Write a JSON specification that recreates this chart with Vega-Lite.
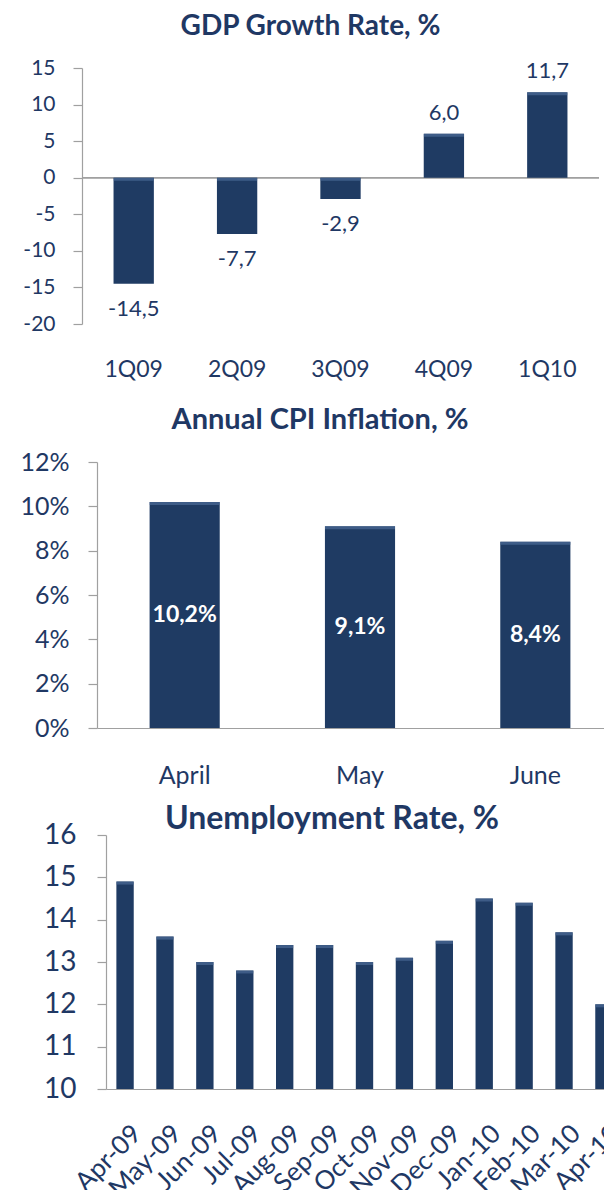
{
  "$schema": "https://vega.github.io/schema/vega-lite/v6.json",
  "padding": {"left": 19, "top": 13, "right": 0, "bottom": 0},
  "background": "white",
  "spacing": 15,
  "config": {
    "font": "Lato",
    "view": {"stroke": null},
    "locale": {"number": {"decimal": ",", "thousands": ".", "grouping": [3], "currency": ["", ""], "minus": "-"}},
    "axis": {"labelFont": "Lato", "labelColor": "#1F3864", "domainColor": "#A0A0A0", "tickColor": "#A0A0A0", "grid": false, "domainWidth": 1.2, "tickWidth": 1.2, "labelOverlap": false},
    "title": {"font": "Lato", "fontWeight": "bold", "color": "#1F3864", "anchor": "middle", "frame": "group"}
  },
  "datasets": {
    "gdp": [
      {"quarter": "1Q09", "value": -14.5},
      {"quarter": "2Q09", "value": -7.7},
      {"quarter": "3Q09", "value": -2.9},
      {"quarter": "4Q09", "value": 6.0},
      {"quarter": "1Q10", "value": 11.7}
    ],
    "cpi": [
      {"month": "April", "value": 0.102},
      {"month": "May", "value": 0.091},
      {"month": "June", "value": 0.084}
    ],
    "unemp": [
      {"month": "Apr-09", "value": 14.9},
      {"month": "May-09", "value": 13.6},
      {"month": "Jun-09", "value": 13.0},
      {"month": "Jul-09", "value": 12.8},
      {"month": "Aug-09", "value": 13.4},
      {"month": "Sep-09", "value": 13.4},
      {"month": "Oct-09", "value": 13.0},
      {"month": "Nov-09", "value": 13.1},
      {"month": "Dec-09", "value": 13.5},
      {"month": "Jan-10", "value": 14.5},
      {"month": "Feb-10", "value": 14.4},
      {"month": "Mar-10", "value": 13.7},
      {"month": "Apr-10", "value": 12.0}
    ]
  },
  "vconcat": [
    {
      "width": 517,
      "height": 256,
      "title": {"text": "GDP Growth Rate, %", "fontSize": 28, "dx": -30, "offset": 16},
      "data": {"name": "gdp"},
      "encoding": {
        "x": {"field": "quarter", "type": "nominal", "sort": null,
              "scale": {"paddingInner": 0.61, "paddingOuter": 0.305},
              "axis": {"title": null, "domain": false, "ticks": true, "tickSize": 67, "tickOpacity": 0, "labelAngle": 0, "labelFontSize": 23, "labelPadding": -33}},
        "y": {"field": "value", "type": "quantitative",
              "scale": {"domain": [-20, 15], "nice": false},
              "axis": {"title": null, "values": [-20, -15, -10, -5, 0, 5, 10, 15], "tickSize": 9, "labelPadding": 18, "labelFontSize": 21, "format": "d"}}
      },
      "layer": [
        {
          "mark": {"type": "rule", "color": "#A0A0A0", "strokeWidth": 1.2},
          "encoding": {"y": {"datum": 0, "type": "quantitative",
              "axis": {"title": null, "values": [-20, -15, -10, -5, 0, 5, 10, 15], "tickSize": 9, "labelPadding": 18, "labelFontSize": 21, "format": "d"}}, "x": null}
        },
        {
          "mark": {"type": "bar", "color": "#1F3B63"}
        },
        {
          "transform": [{"filter": "datum.value > 0"}],
          "mark": {"type": "tick", "color": "#4B6B97", "thickness": 3, "size": 40, "yOffset": 1.5}
        },
        {
          "transform": [{"filter": "datum.value < 0"}],
          "mark": {"type": "tick", "color": "#4B6B97", "thickness": 3, "size": 40, "yOffset": 1.5},
          "encoding": {"y": {"datum": 0, "type": "quantitative",
              "axis": {"title": null, "values": [-20, -15, -10, -5, 0, 5, 10, 15], "tickSize": 9, "labelPadding": 18, "labelFontSize": 21, "format": "d"}}}
        },
        {
          "transform": [{"filter": "datum.value > 0"}],
          "mark": {"type": "text", "baseline": "bottom", "dy": -9, "fontSize": 22, "color": "#1F3864"},
          "encoding": {
            "text": {"field": "value", "type": "quantitative", "format": ".1f"}
          }
        },
        {
          "transform": [{"filter": "datum.value < 0"}],
          "mark": {"type": "text", "baseline": "top", "dy": 15, "fontSize": 22, "color": "#1F3864"},
          "encoding": {
            "text": {"field": "value", "type": "quantitative", "format": ".1f"}
          }
        }
      ]
    },
    {
      "width": 524,
      "height": 266,
      "title": {"text": "Annual CPI Inflation, %", "fontSize": 29, "dx": -24, "offset": 15},
      "data": {"name": "cpi"},
      "encoding": {
        "x": {"field": "month", "type": "nominal", "sort": null,
              "scale": {"range": [15, 541], "paddingInner": 0.6, "paddingOuter": 0.3},
              "axis": {"title": null, "ticks": false, "labelAngle": 0, "labelFontSize": 25, "labelPadding": 35}}
      },
      "layer": [
        {
          "mark": {"type": "bar", "color": "#1F3B63"},
          "encoding": {
            "y": {"field": "value", "type": "quantitative",
                  "scale": {"domain": [0, 0.12], "nice": false},
                  "axis": {"title": null, "values": [0, 0.02, 0.04, 0.06, 0.08, 0.1, 0.12], "format": ".0%", "offset": -15, "tickSize": 9, "labelPadding": 19, "labelFontSize": 25}}
          }
        },
        {
          "mark": {"type": "tick", "color": "#4B6B97", "thickness": 3, "size": 70, "yOffset": 1.5},
          "encoding": {
            "y": {"field": "value", "type": "quantitative",
                  "scale": {"domain": [0, 0.12], "nice": false},
                  "axis": null}
          }
        },
        {
          "mark": {"type": "text", "baseline": "middle", "fontSize": 23, "fontWeight": "bold", "color": "white"},
          "encoding": {
            "y": {"field": "value", "type": "quantitative", "scale": {"domain": [0, 0.24], "nice": false}, "axis": null},
            "text": {"field": "value", "type": "quantitative", "format": ".1%"}
          }
        }
      ],
      "resolve": {"scale": {"y": "independent"}}
    },
    {
      "width": 524,
      "height": 254,
      "title": {"text": "Unemployment Rate, %", "fontSize": 32, "dx": -12, "offset": -15},
      "data": {"name": "unemp"},
      "encoding": {
        "x": {"field": "month", "type": "nominal", "sort": null,
              "scale": {"range": [24, 541], "paddingInner": 0.565, "paddingOuter": 0.26},
              "axis": {"title": null, "ticks": false, "labelAngle": -45, "labelFontSize": 26, "labelPadding": 31, "labelOffset": 3}},
        "y": {"field": "value", "type": "quantitative",
              "scale": {"domain": [10, 16], "nice": false, "zero": false},
              "axis": {"title": null, "values": [10, 11, 12, 13, 14, 15, 16], "offset": -24, "tickSize": 9, "labelPadding": 21, "labelFontSize": 28}}
      },
      "layer": [
        {
          "mark": {"type": "bar", "color": "#1F3B63"},
          "encoding": {"y2": {"datum": 10}}
        },
        {
          "mark": {"type": "tick", "color": "#4B6B97", "thickness": 3, "size": 17, "yOffset": 1.5}
        }
      ]
    }
  ]
}
